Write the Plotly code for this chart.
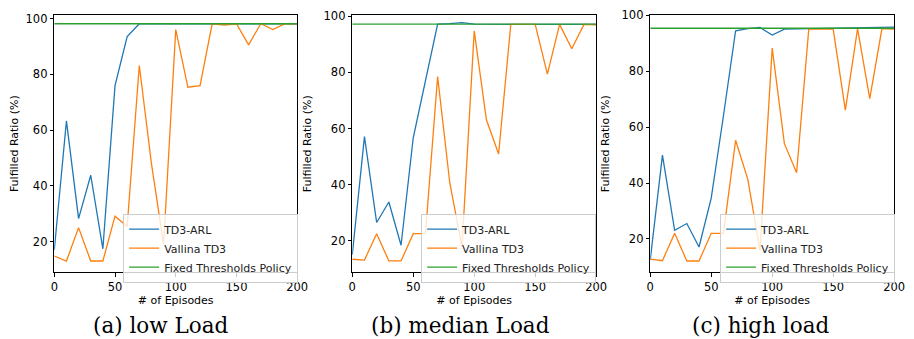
import plotly.graph_objects as go

episodes = [0, 10, 20, 30, 40, 50, 60, 70, 80, 90, 100, 110, 120, 130, 140, 150, 160, 170, 180, 190, 200]

low_arl = [17, 63.3, 28.2, 43.8, 17.4, 76, 93.6, 98.2, 98.2, 98.2, 98.2, 98.2, 98.2, 98.2, 98.2, 98.2, 98.2, 98.2, 98.2, 98.2, 98.2]
low_td3 = [14.8, 13, 25, 13, 13, 29.1, 25.4, 83.2, 48, 19, 96.1, 75.4, 76, 98.2, 97.7, 98.2, 90.6, 98.2, 96.1, 98.2, 98.2]
low_fixed = [98.2] * 21

med_arl = [15, 57.1, 26.5, 33.8, 18.4, 56.7, 77, 97.2, 97.4, 97.7, 97.2, 97.1, 97.1, 97.1, 97.1, 97.1, 97.1, 97.1, 97.1, 97.1, 97.1]
med_td3 = [13.4, 13.1, 22.5, 12.8, 12.8, 22.5, 22.5, 78.5, 40.5, 17.8, 94.8, 63.1, 50.9, 97.1, 97.1, 97.1, 79.4, 97.1, 88.4, 97.1, 96.9]
med_fixed = [97.2] * 21

high_arl = [12.5, 50, 23.1, 25.5, 17.1, 34.6, 64, 94.5, 95.3, 95.7, 93, 95.1, 95.2, 95.3, 95.4, 95.5, 95.5, 95.6, 95.7, 95.8, 95.8]
high_td3 = [12.8, 12.2, 22, 12.1, 12.1, 22, 22, 55.3, 41.3, 15.9, 88.3, 54.1, 43.7, 95.1, 95.1, 95.1, 66.1, 95.3, 70.2, 95.3, 95.1]
high_fixed = [95.4] * 21

captions = ["(a) low Load", "(b) median Load", "(c) high load"]
series_names = ["TD3-ARL", "Vallina TD3", "Fixed Thresholds Policy"]
colors = ["#1f77b4", "#ff7f0e", "#2ca02c"]

panels = [
    (low_arl, low_td3, low_fixed),
    (med_arl, med_td3, med_fixed),
    (high_arl, high_td3, high_fixed),
]

# page body has an 8px margin: figure is drawn at (8, 8) in the window
OFF = 8
W, H = 914 - OFF, 339 - OFF
x_px = [(51, 298), (354, 602), (657, 905)]
y_px = (8, 271)
y_ranges = [[8.9, 101.35], [8.7, 100.45], [8.0, 100.15]]
legend_px = [(121, 211), (424, 211), (728, 211)]
caption_x = [159, 464, 769]
caption_y = 325


def px_x(v):
    return (v - OFF) / W


def px_y(v):
    return 1 - (v - OFF) / H


fig = go.Figure()
tick_font = dict(family="DejaVu Sans", size=11.5, color="black")
title_font = dict(family="DejaVu Sans", size=11, color="black")

for i, data in enumerate(panels):
    xa = "x" if i == 0 else f"x{i+1}"
    ya = "y" if i == 0 else f"y{i+1}"
    lg = "legend" if i == 0 else f"legend{i+1}"
    for j, vals in enumerate(data):
        fig.add_trace(go.Scatter(
            x=episodes, y=vals, mode="lines", name=series_names[j],
            line=dict(color=colors[j], width=1.3),
            xaxis=xa, yaxis=ya, legend=lg, showlegend=True,
        ))
    x0, x1 = x_px[i]
    axis_common = dict(showline=True, linecolor="black", linewidth=1, mirror=True,
                       ticks="outside", ticklen=3.5, tickwidth=0.8, tickcolor="black",
                       showgrid=False, zeroline=False, tickfont=tick_font,
                       ticklabeloverflow="allow")
    fig.layout[f"xaxis{'' if i == 0 else i+1}"] = dict(
        domain=[px_x(x0), px_x(x1)], range=[0, 200], tickvals=[0, 50, 100, 150, 200],
        anchor=ya, title=dict(text="# of Episodes", font=title_font, standoff=2),
        **axis_common)
    fig.layout[f"yaxis{'' if i == 0 else i+1}"] = dict(
        domain=[px_y(y_px[1]), px_y(y_px[0])], range=y_ranges[i],
        tickvals=[20, 40, 60, 80, 100], anchor=xa,
        title=dict(text="Fulfilled Ratio (%)", font=title_font, standoff=9),
        **axis_common)
    lx, ly = legend_px[i]
    fig.layout[lg] = dict(
        x=px_x(lx), y=px_y(ly), xanchor="left", yanchor="top",
        bgcolor="rgba(255,255,255,0.8)", bordercolor="#cccccc", borderwidth=1,
        font=dict(family="DejaVu Sans", size=11, color="#222"), itemwidth=30,
        tracegroupgap=0,
    )
    fig.add_annotation(text=captions[i], x=px_x(caption_x[i]), y=px_y(caption_y),
                       xref="paper", yref="paper", xanchor="center", yanchor="middle",
                       showarrow=False, font=dict(family="DejaVu Serif", size=21.5, color="black"))

fig.update_layout(width=W, height=H, margin=dict(l=0, r=0, t=0, b=0),
                  plot_bgcolor="white", paper_bgcolor="white")

fig.write_html("out.html")
